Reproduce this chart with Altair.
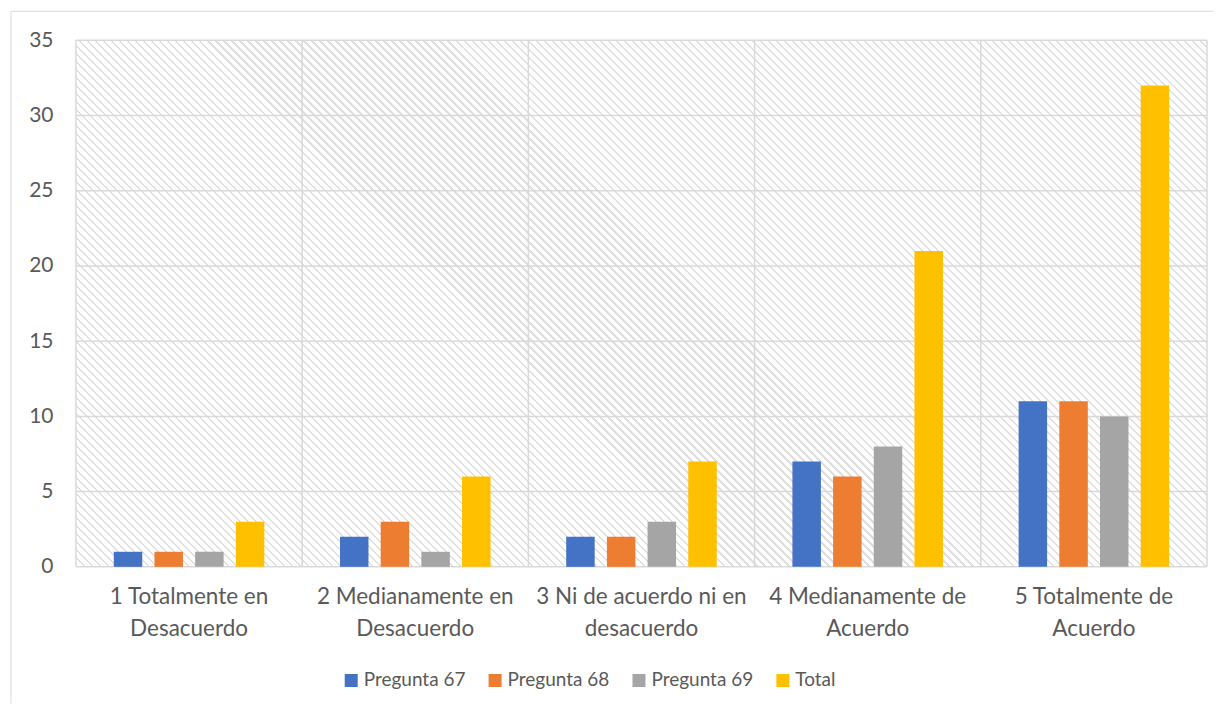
import altair as alt
import pandas as pd

# ---- data ----
categories = [
    "1 Totalmente en|Desacuerdo",
    "2 Medianamente en|Desacuerdo",
    "3 Ni de acuerdo ni en|desacuerdo",
    "4 Medianamente de|Acuerdo",
    "5 Totalmente de|Acuerdo",
]
series = ["Pregunta 67", "Pregunta 68", "Pregunta 69", "Total"]
pregunta_67 = [1, 2, 2, 7, 11]
pregunta_68 = [1, 3, 2, 6, 11]
pregunta_69 = [1, 1, 3, 8, 10]
total = [3, 6, 7, 21, 32]
y_ticks = [0, 5, 10, 15, 20, 25, 30, 35]
colors = ["#4472C4", "#ED7D31", "#A5A5A5", "#FFC000"]

rows = []
for s, vals in zip(series, [pregunta_67, pregunta_68, pregunta_69, total]):
    for c, v in zip(categories, vals):
        rows.append({"cat": c, "series": s, "value": v})
df = pd.DataFrame(rows)

W, H = 1132, 527
FONT = "Lato"
TXT = "#595959"
GRID = "#d9d9d9"

# ---- diagonal hatch background (linear gradient with stripes) ----
N = 207
gray_frac = 0.28
HATCH = "#dfdfdf"
stops = []
for i in range(N):
    a = i / N
    b = (i + gray_frac) / N
    e = (i + 1) / N
    stops += [
        {"offset": round(a, 6), "color": HATCH},
        {"offset": round(b, 6), "color": HATCH},
        {"offset": round(b, 6), "color": "#ffffff"},
        {"offset": round(min(e, 1.0), 6), "color": "#ffffff"},
    ]
k = (1 + H / W) / (1 + (H / W) ** 2)
gradient = {
    "gradient": "linear",
    "x1": 0, "y1": 1,
    "x2": round(k, 5), "y2": round(1 - k * H / W, 5),
    "stops": stops,
}

x_scale = alt.Scale(domain=categories, paddingInner=0, paddingOuter=0)
y_scale = alt.Scale(domain=[0, 35], nice=False)

x_axis = alt.Axis(
    title=None, labelExpr="split(datum.label, '|')", labelAngle=0,
    labelFont=FONT, labelFontSize=22.5, labelColor=TXT, labelLineHeight=32,
    labelPadding=19, labelLimit=400, domain=False, ticks=False, tickSize=0,
    grid=False,
)
y_axis = alt.Axis(
    title=None, values=y_ticks, labelFont=FONT, labelFontSize=21,
    labelColor=TXT, labelPadding=23, domain=False, ticks=False,
    tickSize=0, grid=False,
)

hatch = alt.Chart(pd.DataFrame({"k": [0]})).mark_rect(
    fill=gradient, strokeWidth=0
).encode(
    x=alt.value(0), x2=alt.value("width"), y=alt.value(0), y2=alt.value("height")
)

hgrid = alt.Chart(pd.DataFrame({"v": y_ticks})).mark_rule(
    color=GRID, strokeWidth=1.5
).encode(y=alt.Y("v:Q", scale=y_scale, axis=y_axis))

vgrid = alt.Chart(pd.DataFrame({"cat": categories})).mark_rule(
    color=GRID, strokeWidth=1.5
).encode(x=alt.X("cat:N", bandPosition=0, scale=x_scale, axis=x_axis, sort=categories))

right_edge = alt.Chart(pd.DataFrame({"k": [0]})).mark_rule(
    color=GRID, strokeWidth=1.5
).encode(x=alt.value("width"), y=alt.value(0), y2=alt.value("height"))

frame_left = alt.Chart(pd.DataFrame({"k": [0]})).mark_rule(
    color=GRID, strokeWidth=1
).encode(x=alt.value(-65), y=alt.value(-29), y2=alt.value(664))
frame_top = alt.Chart(pd.DataFrame({"k": [0]})).mark_rule(
    color=GRID, strokeWidth=1
).encode(y=alt.value(-29), x=alt.value(-65), x2=alt.value(1138))

bars = alt.Chart(df).mark_bar().encode(
    x=alt.X("cat:N", scale=x_scale, axis=x_axis, sort=categories),
    xOffset=alt.XOffset("series:N", sort=series,
                        scale=alt.Scale(paddingInner=0.3, paddingOuter=0.93)),
    y=alt.Y("value:Q", scale=y_scale, axis=y_axis),
    color=alt.Color(
        "series:N", sort=series,
        scale=alt.Scale(domain=series, range=colors),
        legend=alt.Legend(
            title=None, orient="none", direction="horizontal",
            legendX=266, legendY=631, symbolType="square", symbolSize=169,
            symbolStrokeWidth=0, labelFont=FONT, labelFontSize=19,
            labelColor=TXT, labelOffset=3, columnPadding=20,
        ),
    ),
)

chart = alt.layer(hatch, hgrid, vgrid, right_edge, frame_left, frame_top, bars).properties(
    width=W, height=H,
    padding={"left": 2, "top": 2, "right": 0, "bottom": 0},
    background="white",
).configure_view(stroke=None)

chart.save("out.html", embed_options={"renderer": "svg", "actions": False})
